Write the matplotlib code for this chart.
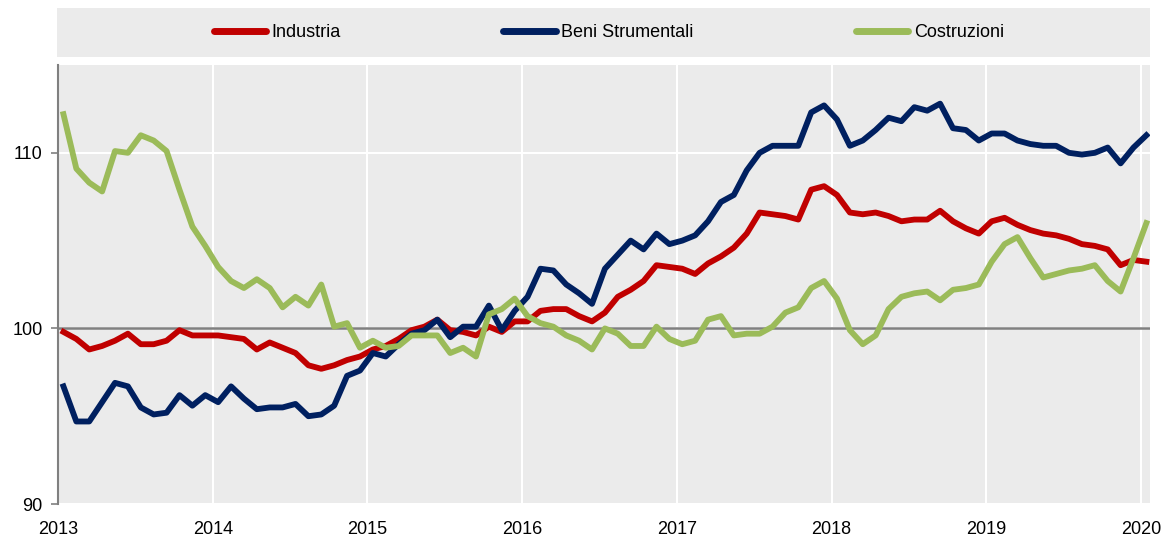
import matplotlib
matplotlib.use("Agg")
from matplotlib import pyplot as plt
from matplotlib import font_manager

# monthly index values, Jan 2013 .. Jan 2020
industria = [
    99.8, 99.4, 98.8, 99.0, 99.3, 99.7, 99.1, 99.1, 99.3, 99.9, 99.6, 99.6,
    99.6, 99.5, 99.4, 98.8, 99.2, 98.9, 98.6, 97.9, 97.7, 97.9, 98.2, 98.4,
    98.8, 99.0, 99.4, 99.9, 100.1, 100.5, 99.9, 99.8, 99.6, 100.1, 99.8, 100.4,
    100.4, 101.0, 101.1, 101.1, 100.7, 100.4, 100.9, 101.8, 102.2, 102.7, 103.6, 103.5,
    103.4, 103.1, 103.7, 104.1, 104.6, 105.4, 106.6, 106.5, 106.4, 106.2, 107.9, 108.1,
    107.6, 106.6, 106.5, 106.6, 106.4, 106.1, 106.2, 106.2, 106.7, 106.1, 105.7, 105.4,
    106.1, 106.3, 105.9, 105.6, 105.4, 105.3, 105.1, 104.8, 104.7, 104.5, 103.6, 103.9,
    103.8,
]
beni_strumentali = [
    96.7, 94.7, 94.7, 95.8, 96.9, 96.7, 95.5, 95.1, 95.2, 96.2, 95.6, 96.2,
    95.8, 96.7, 96.0, 95.4, 95.5, 95.5, 95.7, 95.0, 95.1, 95.6, 97.3, 97.6,
    98.6, 98.4, 99.1, 99.7, 99.9, 100.5, 99.5, 100.1, 100.1, 101.3, 99.9, 101.0,
    101.8, 103.4, 103.3, 102.5, 102.0, 101.4, 103.4, 104.2, 105.0, 104.5, 105.4, 104.8,
    105.0, 105.3, 106.1, 107.2, 107.6, 109.0, 110.0, 110.4, 110.4, 110.4, 112.3, 112.7,
    111.9, 110.4, 110.7, 111.3, 112.0, 111.8, 112.6, 112.4, 112.8, 111.4, 111.3, 110.7,
    111.1, 111.1, 110.7, 110.5, 110.4, 110.4, 110.0, 109.9, 110.0, 110.3, 109.4, 110.3,
    111.0,
]
costruzioni = [
    112.2, 109.1, 108.3, 107.8, 110.1, 110.0, 111.0, 110.7, 110.1, 107.9, 105.8, 104.7,
    103.5, 102.7, 102.3, 102.8, 102.3, 101.2, 101.8, 101.3, 102.5, 100.1, 100.3, 98.9,
    99.3, 98.9, 99.0, 99.6, 99.6, 99.6, 98.6, 98.9, 98.4, 100.8, 101.1, 101.7,
    100.7, 100.3, 100.1, 99.6, 99.3, 98.8, 100.0, 99.7, 99.0, 99.0, 100.1, 99.4,
    99.1, 99.3, 100.5, 100.7, 99.6, 99.7, 99.7, 100.1, 100.9, 101.2, 102.3, 102.7,
    101.7, 99.9, 99.1, 99.6, 101.1, 101.8, 102.0, 102.1, 101.6, 102.2, 102.3, 102.5,
    103.8, 104.8, 105.2, 104.0, 102.9, 103.1, 103.3, 103.4, 103.6, 102.7, 102.1, 104.0,
    106.0,
]
years = [2013, 2014, 2015, 2016, 2017, 2018, 2019, 2020]

red = "#C00000"
navy = "#002060"
green = "#9BBB59"
bg = "#EBEBEB"

# prefer a narrow face if one is installed
installed = {f.name for f in font_manager.fontManager.ttflist}
families = [f for f in ['Liberation Sans Narrow', 'DejaVu Sans Condensed', 'Liberation Sans']
            if f in installed] + ['DejaVu Sans']
narrow = families[0] in ('Liberation Sans Narrow', 'DejaVu Sans Condensed')
plt.rcParams['font.family'] = families
fs = 14 if narrow else 13

fig = plt.figure(figsize=(11.7, 5.45), dpi=100)
ax = fig.add_axes([0.0496, 0.0752, 0.9333, 0.8055])
ax.set_facecolor(bg)

x = [i + 0.42 for i in range(len(industria))]
ax.plot(x, industria, color=red, lw=4.2, label="Industria", solid_joinstyle="round")
ax.plot(x, beni_strumentali, color=navy, lw=4.2, label="Beni Strumentali", solid_joinstyle="round")
ax.plot(x, costruzioni, color=green, lw=4.2, label="Costruzioni", solid_joinstyle="round")
ax.axhline(100, color="#808080", lw=1.8, zorder=1)

ax.set_xlim(0, 84.7)
ax.set_ylim(90, 115)
ax.set_xticks([(y - 2013) * 12 for y in years])
ax.set_xticklabels([str(y) for y in years])
ax.set_yticks([90, 100, 110])
ax.grid(True, color="white", lw=1.5, zorder=0)
ax.set_axisbelow(True)

for s in ["top", "right", "bottom"]:
    ax.spines[s].set_visible(False)
ax.spines["left"].set_color("#808080")
ax.spines["left"].set_linewidth(1.5)
ax.tick_params(axis="x", length=0, pad=12, labelsize=fs)
ax.tick_params(axis="y", length=5, width=1.2, color="#808080", pad=6, labelsize=fs)

# legend panel on top
lax = fig.add_axes([0.0487, 0.8954, 0.934, 0.09])
lax.set_facecolor(bg)
lax.set_xticks([])
lax.set_yticks([])
for s in lax.spines.values():
    s.set_visible(False)
handles, labels = ax.get_legend_handles_labels()
leg = lax.legend(handles, labels, loc="center", ncol=3, frameon=False, fontsize=fs,
                 handlelength=2.9 * 13 / fs, handletextpad=0.3,
                 columnspacing=(9.0 * 13 / fs) if not narrow else 9.8,
                 bbox_to_anchor=(0.505, 0.5))
for h in leg.get_lines():
    h.set_linewidth(5)
    h.set_solid_capstyle("round")

fig.savefig("out.png", dpi=100)
